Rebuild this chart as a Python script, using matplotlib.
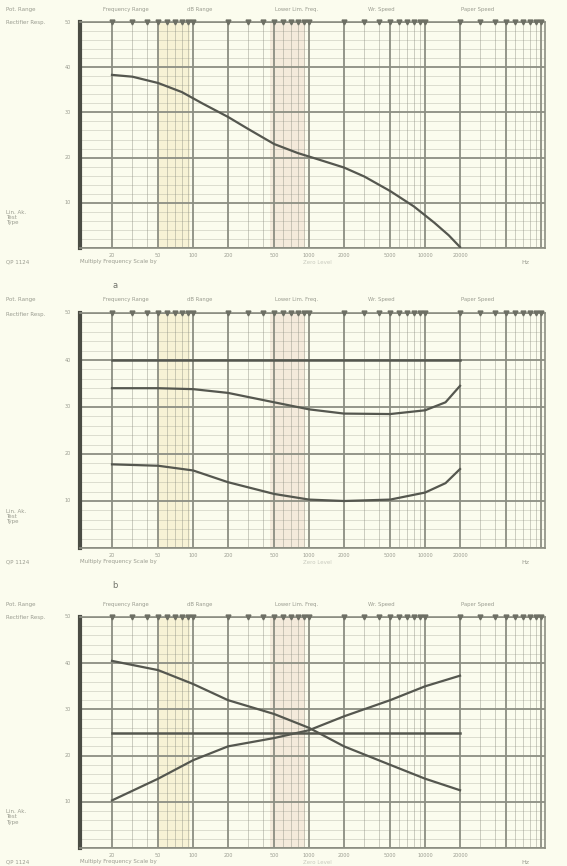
import matplotlib.pyplot as plt
import numpy as np

# values (frequency in Hz, level in dB)
freq_a = [20, 30, 50, 80, 120, 200, 300, 500, 800, 1200, 2000, 3000, 5000, 8000, 12000, 16000, 20000]
level_a = [38.3, 37.9, 36.5, 34.5, 32.0, 29.0, 26.3, 23.0, 21.0, 19.6, 17.8, 15.8, 12.6, 9.2, 5.6, 2.8, 0.2]

freq_b = [20, 50, 100, 200, 500, 1000, 2000, 5000, 10000, 15000, 20000]
flat_b = [40, 40, 40, 40, 40, 40, 40, 40, 40, 40, 40]
upper_b = [34.0, 34.0, 33.8, 33.0, 31.0, 29.5, 28.6, 28.5, 29.3, 31.0, 34.5]
lower_b = [17.8, 17.5, 16.5, 14.0, 11.5, 10.3, 10.0, 10.3, 11.8, 13.8, 16.8]

freq_c = [20, 50, 100, 200, 500, 1000, 2000, 5000, 10000, 20000]
flat_c = [25, 25, 25, 25, 25, 25, 25, 25, 25, 25]
falling_c = [40.5, 38.5, 35.5, 32.0, 29.0, 26.0, 22.0, 18.0, 15.0, 12.5]
rising_c = [10.3, 15.0, 19.0, 22.0, 23.8, 25.5, 28.5, 32.0, 35.0, 37.3]

freq_labels = ['20', '50', '100', '200', '500', '1000', '2000', '5000', '10000', '20000']
top_labels = ['Frequency Range', 'dB Range', 'Lower Lim. Freq.', 'Wr. Speed', 'Paper Speed']
panel_names = ['a', 'b', '']

paper = '#fbfcee'
ink = '#55574f'
grid_c = '#8c8e82'
text_c = '#9a9c90'

fmin, fmax = 10.6, 108000

fig = plt.figure(figsize=(5.67, 8.66), dpi=100)
fig.patch.set_facecolor(paper)

# axes boxes in pixels: (top, bottom)
boxes = [(22, 248), (313, 548), (617, 848)]
W, H = 567.0, 866.0
axes = []
for top, bot in boxes:
    ax = fig.add_axes([80 / W, 1 - bot / H, 465 / W, (bot - top) / H])
    axes.append((ax, bot - top))


def draw_paper(ax, hpx, name):
    ax.set_facecolor(paper)
    ax.set_xscale('log')
    ax.set_xlim(fmin, fmax)
    ax.set_ylim(0, 50)

    # coloured bands on the paper
    ax.axvspan(50, 95, color='#f3e7b8', alpha=0.45, lw=0)
    ax.axvspan(460, 930, color='#ecd6c6', alpha=0.45, lw=0)

    # vertical grid
    for dec in [10, 100, 1000, 10000, 100000]:
        for m in range(1, 10):
            f = dec * m
            if f <= fmin or f >= fmax:
                continue
            if m in (1, 2, 5):
                ax.axvline(f, color=grid_c, lw=1.3, zorder=1)
            else:
                ax.axvline(f, color=grid_c, lw=0.5, alpha=0.6, zorder=1)
            ax.plot(f, 50, marker='v', ms=3.5, color='#6d6f64', clip_on=False, zorder=5)

    # horizontal grid
    for y in range(0, 51, 2):
        if y % 10 == 0:
            ax.axhline(y, color=grid_c, lw=1.3, zorder=1)
        elif y % 5 == 0:
            ax.axhline(y, color=grid_c, lw=0.8, zorder=1)
        else:
            ax.axhline(y, color=grid_c, lw=0.4, alpha=0.5, zorder=1)

    for side in ['top', 'right', 'bottom']:
        ax.spines[side].set_color(grid_c)
        ax.spines[side].set_linewidth(1.2)
    ax.spines['left'].set_color('#4a4c44')
    ax.spines['left'].set_linewidth(3)

    ax.set_xticks([])
    ax.set_yticks([])
    ax.minorticks_off()

    # frequency labels under the axis
    for lab in freq_labels:
        ax.text(float(lab), -1.0, lab, fontsize=3.5, color=text_c, ha='center', va='top')
    yb = -14.0 / hpx
    ax.text(0.0, yb, 'Multiply Frequency Scale by', transform=ax.transAxes,
            fontsize=4, color=text_c, va='center')
    ax.text(0.48, yb, 'Zero Level', transform=ax.transAxes,
            fontsize=4, color='#c8cabe', va='center')
    ax.text(0.95, yb, 'Hz', transform=ax.transAxes,
            fontsize=4.5, color=text_c, va='center')
    ax.text(-0.16, yb, 'QP 1124', transform=ax.transAxes, fontsize=4, color=text_c, va='center')

    # header labels
    xs = [0.05, 0.23, 0.42, 0.62, 0.82]
    for x, lab in zip(xs, top_labels):
        ax.text(x, 1.045, lab, transform=ax.transAxes, fontsize=3.8, color=text_c, va='bottom')
    ax.text(-0.16, 1.045, 'Pot. Range', transform=ax.transAxes, fontsize=4, color=text_c, va='bottom')
    ax.text(-0.16, 0.985, 'Rectifier Resp.', transform=ax.transAxes, fontsize=4, color=text_c, va='bottom')
    ax.text(-0.16, 0.10, 'Lin. Ak.\nTest\nType', transform=ax.transAxes, fontsize=4,
            color=text_c, va='bottom', linespacing=1.1)

    for y in range(10, 51, 10):
        ax.text(-0.02, y, str(y), transform=ax.get_yaxis_transform(), fontsize=3.5,
                color=text_c, ha='right', va='center')

    if name:
        ax.text(0.075, -38.0 / hpx, name, transform=ax.transAxes, fontsize=6,
                color='#70726a', ha='center', va='center')


for (ax, hpx), name in zip(axes, panel_names):
    draw_paper(ax, hpx, name)

ax1, ax2, ax3 = [a for a, h in axes]

ax1.plot(freq_a, level_a, color=ink, lw=1.6, zorder=4)

ax2.plot(freq_b, flat_b, color=ink, lw=1.8, zorder=4)
ax2.plot(freq_b, upper_b, color=ink, lw=1.6, zorder=4)
ax2.plot(freq_b, lower_b, color=ink, lw=1.6, zorder=4)

ax3.plot(freq_c, flat_c, color=ink, lw=1.8, zorder=4)
ax3.plot(freq_c, falling_c, color=ink, lw=1.6, zorder=4)
ax3.plot(freq_c, rising_c, color=ink, lw=1.6, zorder=4)

plt.savefig('out.png', dpi=100, facecolor=paper)
